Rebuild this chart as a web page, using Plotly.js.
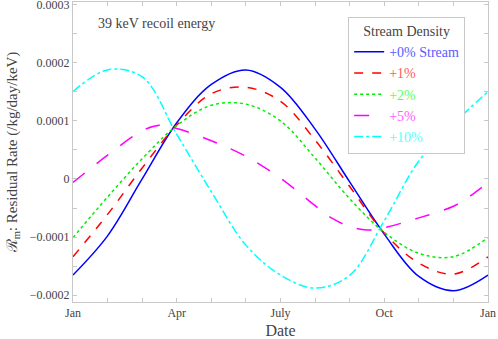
<!DOCTYPE html>
<html>
<head>
<meta charset="utf-8">
<script src="https://cdn.plot.ly/plotly-3.0.1.min.js"></script>
<style>html,body{margin:0;padding:0;background:#fff;}#chart{width:498px;height:339px;}</style>
</head>
<body>
<div id="chart"></div>
<script>
// x positions: months since Jan 1 (0 = Jan, 12 = next Jan)
const months = [0, 1, 2, 3, 4, 5, 6, 7, 8, 9, 10, 11, 12];
const months5 = [0, 1, 2, 2.5, 3, 4, 5, 6, 7, 7.5, 8, 8.5, 9, 10, 11, 11.5, 12];
const tickPos = [0, 3, 6, 9, 12];
const tickLabels = ["Jan", "Apr", "July", "Oct", "Jan"];

// residual rates (/kg/day/keV)
const stream0  = [-0.0001655, -0.000098, 0.000000, 0.000097, 0.000163, 0.000188, 0.000158, 0.000086, -0.000005, -0.000095, -0.000168, -0.0001925, -0.0001655];
const stream1  = [-0.000134, -0.000061, 0.000019, 0.000093, 0.000147, 0.000158, 0.000134, 0.000067, -0.000013, -0.000093, -0.000145, -0.000164, -0.000134];
const stream2  = [-0.000101, -0.000031, 0.000035, 0.000092, 0.000127, 0.000129, 0.000100, 0.000036, -0.000034, -0.000092, -0.000128, -0.000134, -0.000101];
const stream5  = [-0.000006, 0.000041, 0.000083, 0.0000925, 0.000087, 0.000066, 0.000039, 0.0000015, -0.000046, -0.000068, -0.000082, -0.000088, -0.000084, -0.000067, -0.000047, -0.0000285, -0.000006];
const stream10 = [0.0001505, 0.000188, 0.000176, 0.000077, -0.000022, -0.000114, -0.0001655, -0.000188, -0.000166, -0.000072, 0.000031, 0.000095, 0.0001505];

const seriesNames = ["+0% Stream", "+1%", "+2%", "+5%", "+10%"];
const lineColors = ["#0000ff", "#ff0000", "#00ee00", "#ff00ff", "#00ffff"];
const textColors = ["#5a5aff", "#ff5a5a", "#5aff5a", "#ff5aff", "#5affff"];
const dashes = ["solid", "dash", "dot", "longdash", "dashdot"];
const allSeries = [stream0, stream1, stream2, stream5, stream10];
const allX = [months, months, months, months5, months];

const traces = allSeries.map((ys, i) => ({
  x: allX[i],
  y: ys,
  type: "scatter",
  mode: "lines",
  name: '<span style="color:' + textColors[i] + '">' + seriesNames[i] + '</span>',
  line: {color: lineColors[i], width: 1.5, dash: dashes[i], shape: "spline", smoothing: 1}
}));

const serif = "Liberation Serif";
const axisCommon = {
  showline: true, linecolor: "#c8c8c8", linewidth: 1, mirror: "allticks",
  ticks: "inside", ticklen: 4, tickcolor: "#c8c8c8",
  showgrid: false, zeroline: false, ticklabeloverflow: "allow",
  tickfont: {family: serif, size: 12, color: "#444"}
};

const layout = {
  width: 498, height: 339,
  margin: {l: 73, r: 10, t: 2, b: 37},
  paper_bgcolor: "#fff", plot_bgcolor: "#fff",
  font: {family: serif, color: "#444"},
  showlegend: true,
  xaxis: Object.assign({}, axisCommon, {
    range: [0, 12],
    tickmode: "array", tickvals: tickPos, ticktext: tickLabels,
    minor: {dtick: 1, ticks: "inside", ticklen: 4, tickcolor: "#c8c8c8", showgrid: false},
    title: {text: "Date", font: {family: serif, size: 16, color: "#444"}, standoff: 6}
  }),
  yaxis: Object.assign({}, axisCommon, {
    range: [-0.000212, 0.000305],
    dtick: 0.0001, tick0: 0, exponentformat: "none",
    minor: {dtick: 0.00005, ticks: "inside", ticklen: 4, tickcolor: "#c8c8c8", showgrid: false},
    title: {text: "ℛ<sub>m</sub>: Residual Rate (/kg/day/keV)", font: {family: serif, size: 15, color: "#444"}, standoff: 8}
  }),
  legend: {
    x: 0.663, y: 0.95, xanchor: "left", yanchor: "top",
    bgcolor: "#fff", bordercolor: "#c8c8c8", borderwidth: 1,
    font: {family: serif, size: 14},
    title: {text: "Stream Density", font: {family: serif, size: 14, color: "#444"}, side: "top center"},
    tracegroupgap: 0
  },
  annotations: [{
    xref: "paper", yref: "paper", x: 0.055, y: 0.927, xanchor: "left", yanchor: "middle",
    text: "39 keV recoil energy", showarrow: false,
    font: {family: serif, size: 14, color: "#444"}
  }]
};

Plotly.newPlot("chart", traces, layout, {displayModeBar: false, staticPlot: true});
</script>
</body>
</html>
